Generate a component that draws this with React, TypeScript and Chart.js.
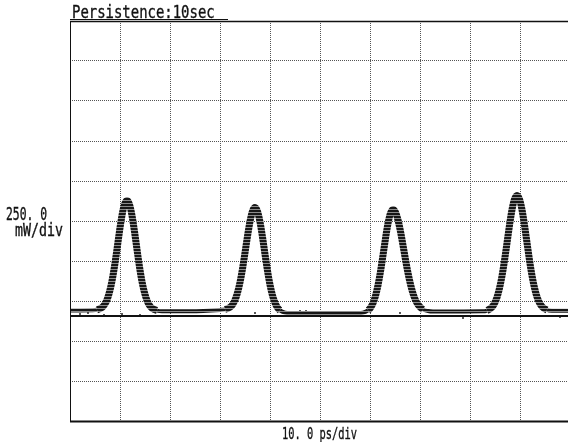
import React, { useEffect, useRef } from "react";
import { Chart, registerables } from "chart.js";

Chart.register(...registerables);

// Screen graticule: 10 x 10 divisions
const timeDivs = 10;
const psPerDiv = 10;
const powerDivs = 10;
const mwPerDiv = 250;
// The ground marker sits this many divisions above the bottom edge
const groundDiv = 2.625;

// Persistence trace (time in ps, optical power in mW above ground)
const tracePs = [
  0,
  4.4, 5.4, 6.4, 6.9, 7.4, 7.9, 8.4, 8.9, 9.4, 9.9, 10.4, 10.9, 11.4, 11.9, 12.4, 12.9, 13.4, 13.9, 14.4, 14.9, 15.4, 15.9, 16.4, 17.4, 18.4,
  24,
  30.0, 31.0, 32.0, 32.5, 33.0, 33.5, 34.0, 34.5, 35.0, 35.5, 36.0, 36.5, 37.0, 37.5, 38.0, 38.5, 39.0, 39.5, 40.0, 40.5, 41.0, 41.5, 42.0, 43.0, 44.0,
  50,
  57.6, 58.6, 59.6, 60.1, 60.6, 61.1, 61.6, 62.1, 62.6, 63.1, 63.6, 64.1, 64.6, 65.1, 65.6, 66.1, 66.6, 67.1, 67.6, 68.1, 68.6, 69.1, 69.6, 70.6, 71.6, 72.6,
  77,
  82.4, 83.4, 84.4, 84.9, 85.4, 85.9, 86.4, 86.9, 87.4, 87.9, 88.4, 88.9, 89.4, 89.9, 90.4, 90.9, 91.4, 91.9, 92.4, 92.9, 93.4, 93.9, 94.4, 95.4, 96.4,
  100,
];
const traceMw = [
  35,
  36, 39, 53, 71, 101, 150, 219, 310, 418, 530, 629, 697, 722, 697, 628, 528, 416, 307, 215, 146, 97, 66, 48, 34, 30,
  30,
  38, 41, 55, 71, 100, 145, 210, 295, 395, 499, 591, 655, 678, 654, 588, 493, 386, 283, 195, 128, 82, 52, 35, 21, 18,
  18,
  18, 21, 35, 52, 81, 126, 192, 278, 380, 485, 578, 643, 666, 649, 600, 528, 442, 353, 269, 198, 141, 99, 71, 41, 31, 28,
  28,
  29, 34, 55, 79, 116, 173, 250, 347, 456, 567, 664, 730, 753, 730, 664, 568, 458, 349, 253, 176, 120, 82, 59, 38, 33,
  32,
];

// Isolated samples scattered around the baseline
const strayPs = [2.0, 3.6, 6.8, 10.4, 14.0, 37.0, 46.0, 47.2, 66.0, 78.6, 98.0];
const strayMw = [12, 19, 6, 12, 6, 19, 31, 31, 19, -12, -6];

const yMin = -groundDiv * mwPerDiv;
const yMax = (powerDivs - groundDiv) * mwPerDiv;

const FONT = '"DejaVu Sans Mono", monospace';

function makeScanPattern(): CanvasPattern | string {
  const c = document.createElement("canvas");
  c.width = 1;
  c.height = 3;
  const g = c.getContext("2d");
  if (!g) return "#222";
  g.fillStyle = "#161616";
  g.fillRect(0, 0, 1, 2);
  g.fillStyle = "#8c8c8c";
  g.fillRect(0, 2, 1, 1);
  return g.createPattern(c, "repeat") || "#222";
}

const framePlugin = {
  id: "scopeFrame",
  afterDraw(chart: any) {
    const { ctx, chartArea: a } = chart;
    ctx.save();
    ctx.strokeStyle = "#111";
    ctx.lineWidth = 1.5;
    ctx.beginPath();
    ctx.moveTo(a.left, a.top + 0.5);
    ctx.lineTo(a.right, a.top + 0.5);
    ctx.stroke();
    ctx.lineWidth = 1;
    ctx.beginPath();
    ctx.moveTo(a.left + 0.5, a.top);
    ctx.lineTo(a.left + 0.5, a.bottom);
    ctx.stroke();
    ctx.lineWidth = 2;
    ctx.beginPath();
    ctx.moveTo(a.left, a.bottom + 0.5);
    ctx.lineTo(a.right, a.bottom + 0.5);
    ctx.stroke();
    ctx.restore();
  },
};

export default function App() {
  const ref = useRef<HTMLCanvasElement | null>(null);

  useEffect(() => {
    if (!ref.current) return;
    const scan = makeScanPattern();
    const chart = new Chart(ref.current, {
      type: "line",
      data: {
        datasets: [
          {
            data: tracePs.map((x, i) => ({ x, y: traceMw[i] })),
            borderColor: scan as any,
            borderWidth: 7,
            pointRadius: 0,
            cubicInterpolationMode: "monotone",
            fill: false,
            segment: {
              // the flat baseline is a thinner band than the jittering pulse edges
              borderWidth: (ctx: any) =>
                traceMw[ctx.p0DataIndex] < 45 && traceMw[ctx.p1DataIndex] < 45 ? 4 : 7,
            },
          },
          {
            data: [
              { x: 0, y: 0 },
              { x: timeDivs * psPerDiv, y: 0 },
            ],
            borderColor: "#111",
            borderWidth: 2,
            pointRadius: 0,
          },
          {
            data: strayPs.map((x, i) => ({ x, y: strayMw[i] })),
            showLine: false,
            pointRadius: 1,
            pointBorderWidth: 0,
            pointBackgroundColor: "#222",
          },
        ],
      },
      options: {
        animation: false,
        responsive: false,
        events: [],
        layout: { padding: { left: 70, top: 21, right: 10, bottom: 21 } },
        plugins: {
          legend: { display: false },
          tooltip: { enabled: false },
          title: { display: false },
        },
        scales: {
          x: {
            type: "linear",
            min: 0,
            max: timeDivs * psPerDiv,
            ticks: { display: false, stepSize: psPerDiv },
            grid: { color: "#555", lineWidth: 1, drawTicks: false },
            border: { display: false, dash: [1, 1] },
          },
          y: {
            type: "linear",
            min: yMin,
            max: yMax,
            afterBuildTicks: (scale: any) => {
              scale.ticks = Array.from({ length: powerDivs + 1 }, (_, i) => ({ value: yMin + i * mwPerDiv }));
            },
            ticks: { display: false },
            grid: { color: "#555", lineWidth: 1, drawTicks: false },
            border: { display: false, dash: [1, 1] },
          },
        },
      },
      plugins: [framePlugin],
    } as any);
    return () => chart.destroy();
  }, []);

  const label = (left: number, top: number, size: number, squeeze: number): React.CSSProperties => ({
    position: "absolute",
    left,
    top,
    fontFamily: FONT,
    fontSize: size,
    color: "#111",
    whiteSpace: "pre",
    lineHeight: 1,
    WebkitTextStroke: "0.35px #111",
    transform: `scaleX(${squeeze})`,
    transformOrigin: "0 0",
  });

  return (
    <div
      style={{
        position: "fixed",
        left: 0,
        top: 0,
        width: 568,
        height: 442,
        overflow: "hidden",
        background: "#fff",
      }}
    >
      <canvas ref={ref} width={580} height={442} style={{ position: "absolute", left: 0, top: 0 }} />
      <div style={label(72, 3.6, 17, 0.82)}>Persistence:10sec</div>
      <div style={{ position: "absolute", left: 70, top: 19, width: 158, height: 1, background: "#111" }} />
      <div style={label(6, 205.6, 17, 0.67)}>250. 0</div>
      <div style={label(15, 221.6, 17, 0.78)}>mW/div</div>
      <div style={label(282, 425.5, 16.5, 0.63)}>10. 0 ps/div</div>
    </div>
  );
}
